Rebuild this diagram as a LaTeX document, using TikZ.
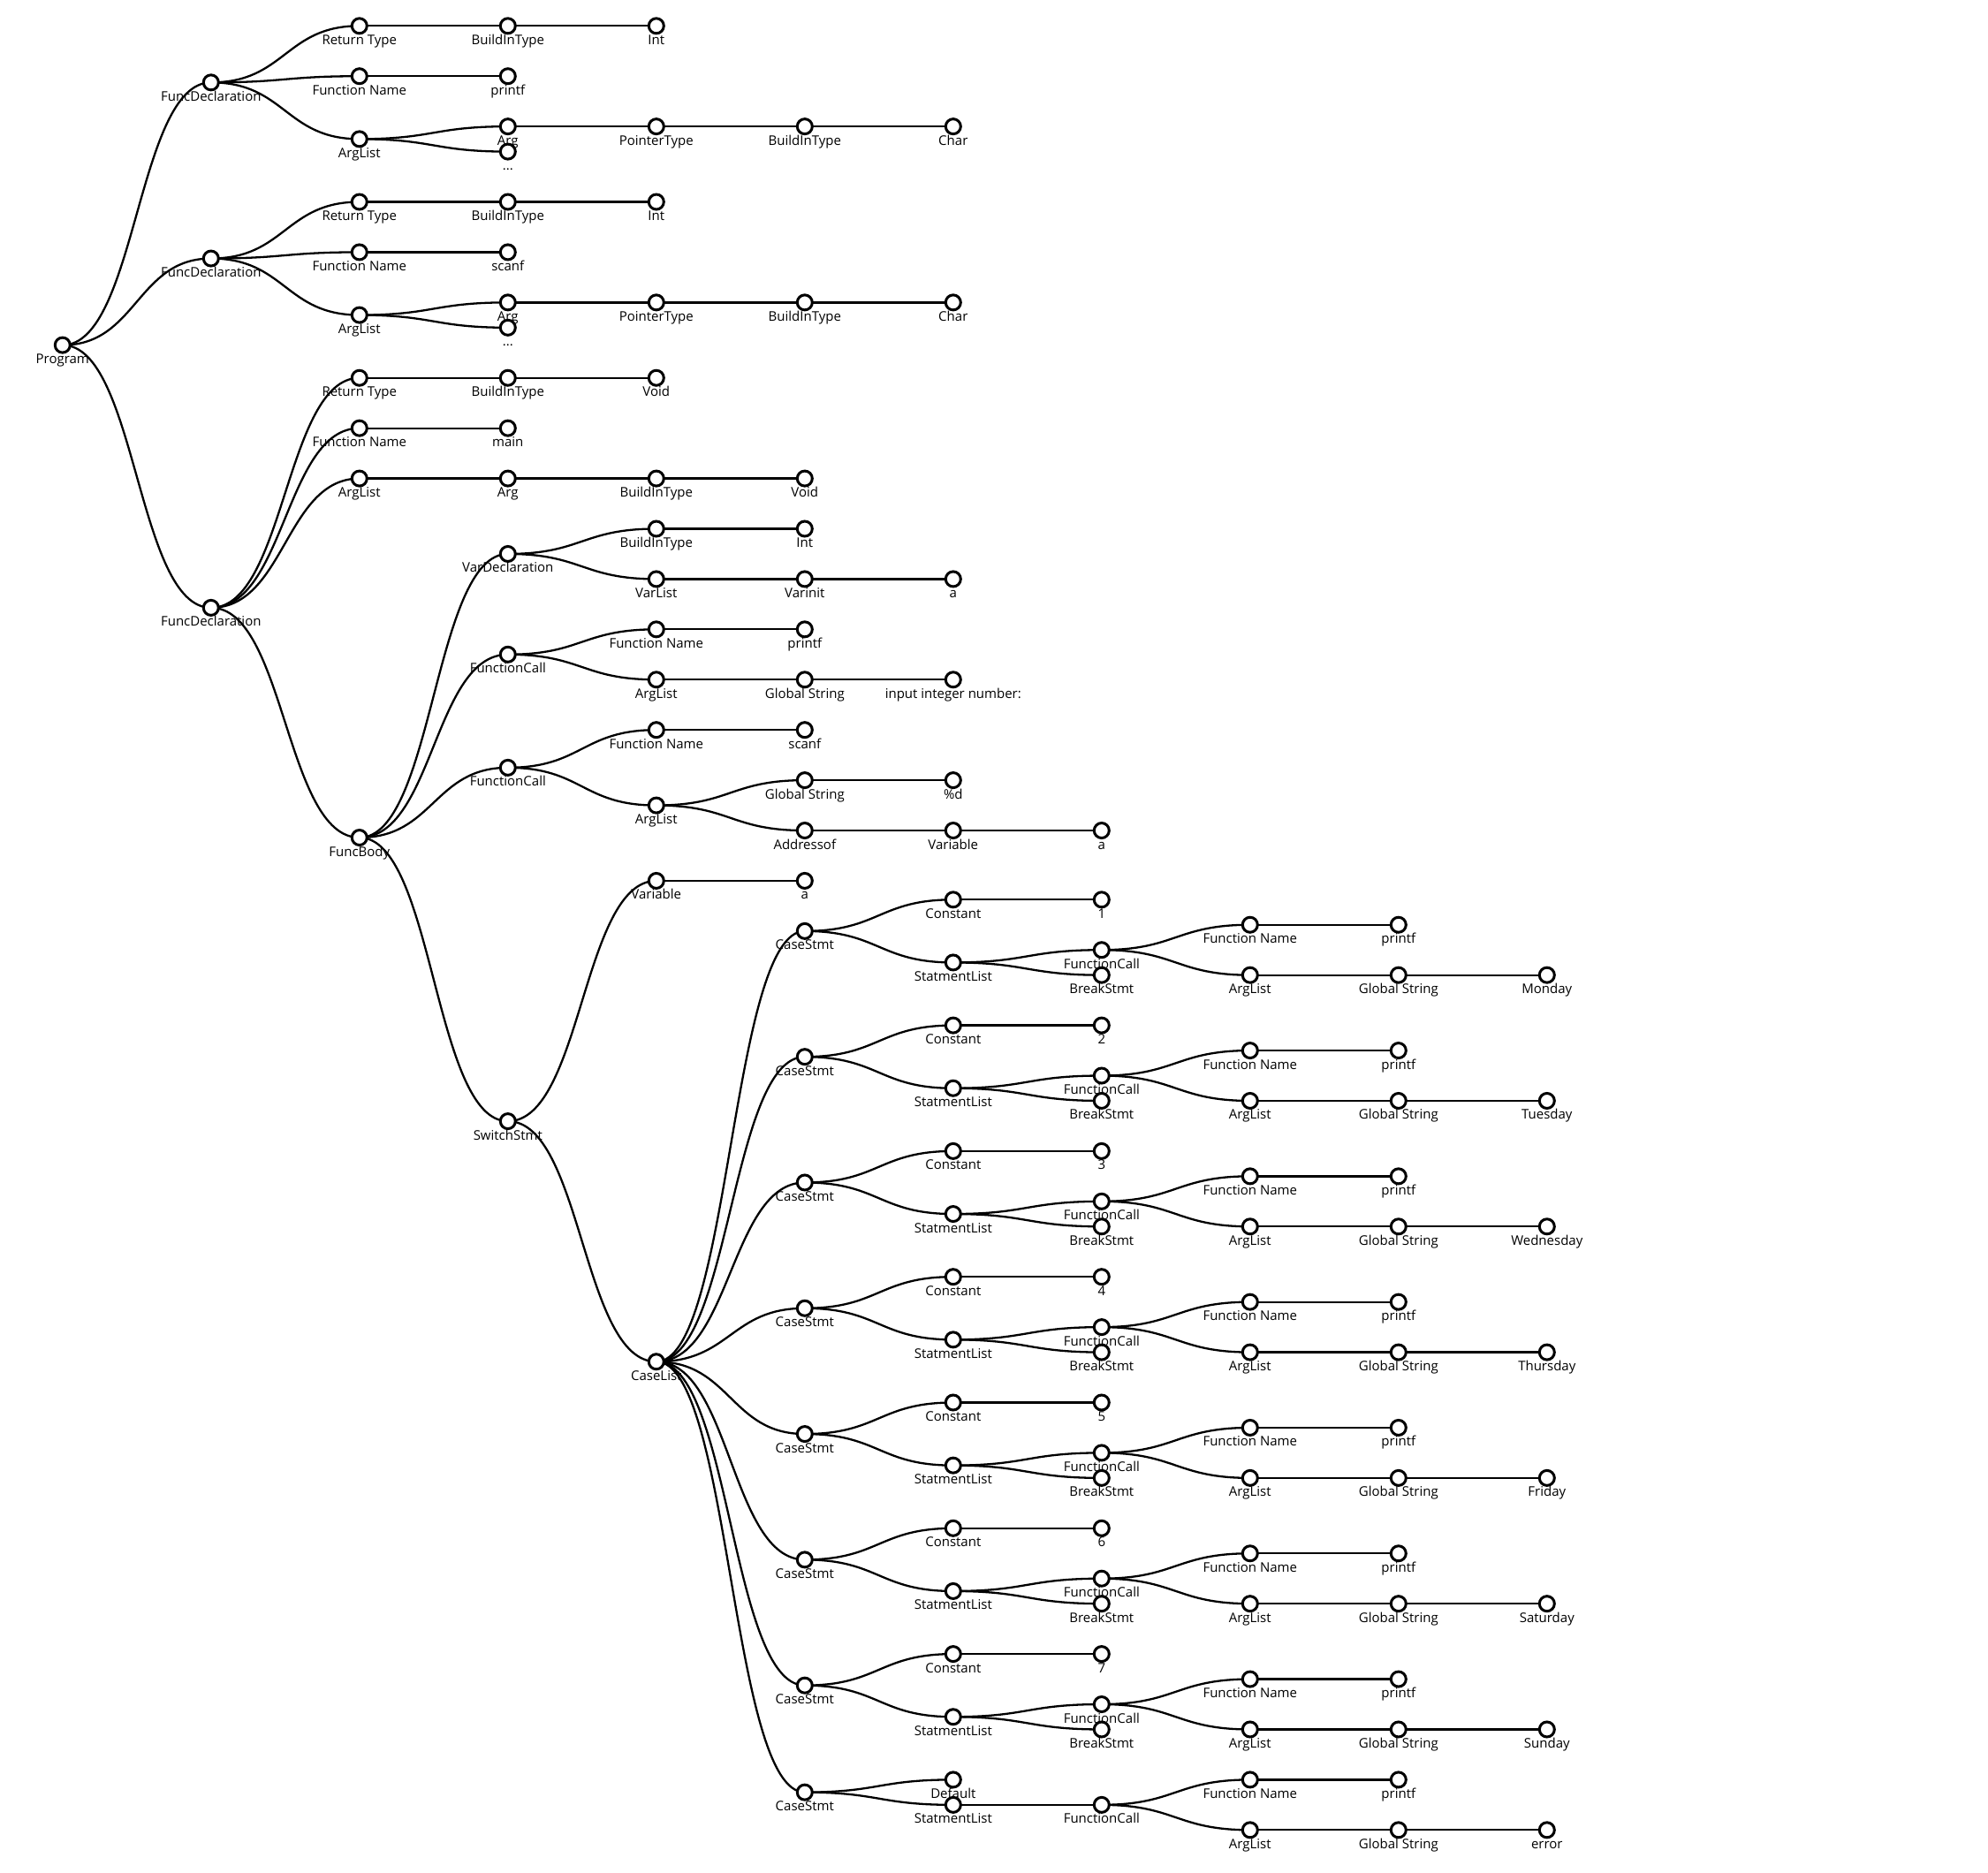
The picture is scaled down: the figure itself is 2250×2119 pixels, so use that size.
\documentclass[tikz,border=0pt]{standalone}
\usepackage{fontspec}
\setmainfont{Open Sans}
\usetikzlibrary{calc}
\pgfdeclarelayer{bg}
\pgfdeclarelayer{lab}
\pgfdeclarelayer{lnk}
\pgfsetlayers{bg,lab,lnk,main}
\tikzset{
  tn/.style={circle, draw=black, fill=white, line width=3pt, minimum size=17pt, inner sep=0pt},
  lab/.style={anchor=base, inner sep=0pt, font=\fontsize{15}{18}\selectfont, text=black},
  lk/.style={draw=black, line width=2.3pt}
}
\newcommand\N[4]{%
  \node[tn] (#1) at ({70.8+168*#2},{29.3+28.46*(#3)}) {};
  \begin{pgfonlayer}{lab}\node[lab] at ([yshift=-21pt]#1.center) {#4};\end{pgfonlayer}}
\newcommand\E[2]{%
  \begin{pgfonlayer}{lnk}\draw[lk] (#1.center) .. controls ([xshift=84pt]#1.center) and ([xshift=-84pt]#2.center) .. (#2.center);\end{pgfonlayer}}
\begin{document}
\begin{tikzpicture}[x=1pt,y=-1pt]
\begin{pgfonlayer}{bg}
\fill[white] (0,0) rectangle (2250,2119);
\end{pgfonlayer}
\useasboundingbox (0,0) rectangle (2250,2119);
% root
\N{prog}{0}{12.6953}{Program}
% FuncDeclaration A
\N{fda}{1}{2.25}{FuncDeclaration}
\N{rta}{2}{0}{Return Type}
\N{bta}{3}{0}{BuildInType}
\N{inta}{4}{0}{Int}
\N{fna}{2}{2}{Function Name}
\N{pfa}{3}{2}{printf}
\N{ala}{2}{4.5}{ArgList}
\N{arga}{3}{4}{Arg}
\N{pta}{4}{4}{PointerType}
\N{btaa}{5}{4}{BuildInType}
\N{chara}{6}{4}{Char}
\N{dota}{3}{5}{...}
% FuncDeclaration B
\N{fdb}{1}{9.25}{FuncDeclaration}
\N{rtb}{2}{7}{Return Type}
\N{btb}{3}{7}{BuildInType}
\N{intb}{4}{7}{Int}
\N{fnb}{2}{9}{Function Name}
\N{scb}{3}{9}{scanf}
\N{alb}{2}{11.5}{ArgList}
\N{argb}{3}{11}{Arg}
\N{ptb}{4}{11}{PointerType}
\N{btbb}{5}{11}{BuildInType}
\N{charb}{6}{11}{Char}
\N{dotb}{3}{12}{...}
% FuncDeclaration C
\N{fdc}{1}{23.140625}{FuncDeclaration}
\N{rtc}{2}{14}{Return Type}
\N{btc}{3}{14}{BuildInType}
\N{voidc}{4}{14}{Void}
\N{fnc}{2}{16}{Function Name}
\N{mainc}{3}{16}{main}
\N{alc}{2}{18}{ArgList}
\N{argc}{3}{18}{Arg}
\N{btcc}{4}{18}{BuildInType}
\N{voidcc}{5}{18}{Void}
\N{fb}{2}{32.28125}{FuncBody}
\N{vd}{3}{21}{VarDeclaration}
\N{vdbt}{4}{20}{BuildInType}
\N{vdint}{5}{20}{Int}
\N{vl}{4}{22}{VarList}
\N{vi}{5}{22}{Varinit}
\N{va}{6}{22}{a}
\N{fca}{3}{25}{FunctionCall}
\N{fcafn}{4}{24}{Function Name}
\N{fcapf}{5}{24}{printf}
\N{fcaal}{4}{26}{ArgList}
\N{fcags}{5}{26}{Global String}
\N{fcas}{6}{26}{input integer number:}
\N{fcb}{3}{29.5}{FunctionCall}
\N{fcbfn}{4}{28}{Function Name}
\N{fcbsc}{5}{28}{scanf}
\N{fcbal}{4}{31}{ArgList}
\N{fcbgs}{5}{30}{Global String}
\N{fcbd}{6}{30}{\%d}
\N{fcbad}{5}{32}{Addressof}
\N{fcbvar}{6}{32}{Variable}
\N{fcba}{7}{32}{a}
\N{sw}{3}{43.5625}{SwitchStmt}
\N{swv}{4}{34}{Variable}
\N{swa}{5}{34}{a}
\N{cl}{4}{53.125}{CaseList}
% edges top
\E{prog}{fda}\E{prog}{fdb}\E{prog}{fdc}
\E{fda}{rta}\E{rta}{bta}\E{bta}{inta}
\E{fda}{fna}\E{fna}{pfa}
\E{fda}{ala}\E{ala}{arga}\E{arga}{pta}\E{pta}{btaa}\E{btaa}{chara}\E{ala}{dota}
\E{fdb}{rtb}\E{rtb}{btb}\E{btb}{intb}
\E{fdb}{fnb}\E{fnb}{scb}
\E{fdb}{alb}\E{alb}{argb}\E{argb}{ptb}\E{ptb}{btbb}\E{btbb}{charb}\E{alb}{dotb}
\E{fdc}{rtc}\E{rtc}{btc}\E{btc}{voidc}
\E{fdc}{fnc}\E{fnc}{mainc}
\E{fdc}{alc}\E{alc}{argc}\E{argc}{btcc}\E{btcc}{voidcc}
\E{fdc}{fb}
\E{fb}{vd}\E{vd}{vdbt}\E{vdbt}{vdint}\E{vd}{vl}\E{vl}{vi}\E{vi}{va}
\E{fb}{fca}\E{fca}{fcafn}\E{fcafn}{fcapf}\E{fca}{fcaal}\E{fcaal}{fcags}\E{fcags}{fcas}
\E{fb}{fcb}\E{fcb}{fcbfn}\E{fcbfn}{fcbsc}\E{fcb}{fcbal}\E{fcbal}{fcbgs}\E{fcbgs}{fcbd}
\E{fcbal}{fcbad}\E{fcbad}{fcbvar}\E{fcbvar}{fcba}
\E{fb}{sw}\E{sw}{swv}\E{swv}{swa}\E{sw}{cl}
% cases
\foreach \i/\day in {1/Monday,2/Tuesday,3/Wednesday,4/Thursday,5/Friday,6/Saturday,7/Sunday}{
  \pgfmathsetmacro\c{36+5*(\i-1)}
  \N{cs\i}{5}{\c}{CaseStmt}
  \N{con\i}{6}{\c-1.25}{Constant}
  \N{val\i}{7}{\c-1.25}{\i}
  \N{sl\i}{6}{\c+1.25}{StatmentList}
  \N{fc\i}{7}{\c+0.75}{FunctionCall}
  \N{fn\i}{8}{\c-0.25}{Function Name}
  \N{pf\i}{9}{\c-0.25}{printf}
  \N{al\i}{8}{\c+1.75}{ArgList}
  \N{gs\i}{9}{\c+1.75}{Global String}
  \N{dy\i}{10}{\c+1.75}{\day}
  \N{br\i}{7}{\c+1.75}{BreakStmt}
  \E{cl}{cs\i}\E{cs\i}{con\i}\E{con\i}{val\i}\E{cs\i}{sl\i}
  \E{sl\i}{fc\i}\E{fc\i}{fn\i}\E{fn\i}{pf\i}\E{fc\i}{al\i}\E{al\i}{gs\i}\E{gs\i}{dy\i}
  \E{sl\i}{br\i}
}
% default case
\N{cs8}{5}{70.25}{CaseStmt}
\N{def8}{6}{69.75}{Default}
\N{sl8}{6}{70.75}{StatmentList}
\N{fc8}{7}{70.75}{FunctionCall}
\N{fn8}{8}{69.75}{Function Name}
\N{pf8}{9}{69.75}{printf}
\N{al8}{8}{71.75}{ArgList}
\N{gs8}{9}{71.75}{Global String}
\N{err8}{10}{71.75}{error}
\E{cl}{cs8}\E{cs8}{def8}\E{cs8}{sl8}\E{sl8}{fc8}\E{fc8}{fn8}\E{fn8}{pf8}\E{fc8}{al8}\E{al8}{gs8}\E{gs8}{err8}
\end{tikzpicture}
\end{document}
